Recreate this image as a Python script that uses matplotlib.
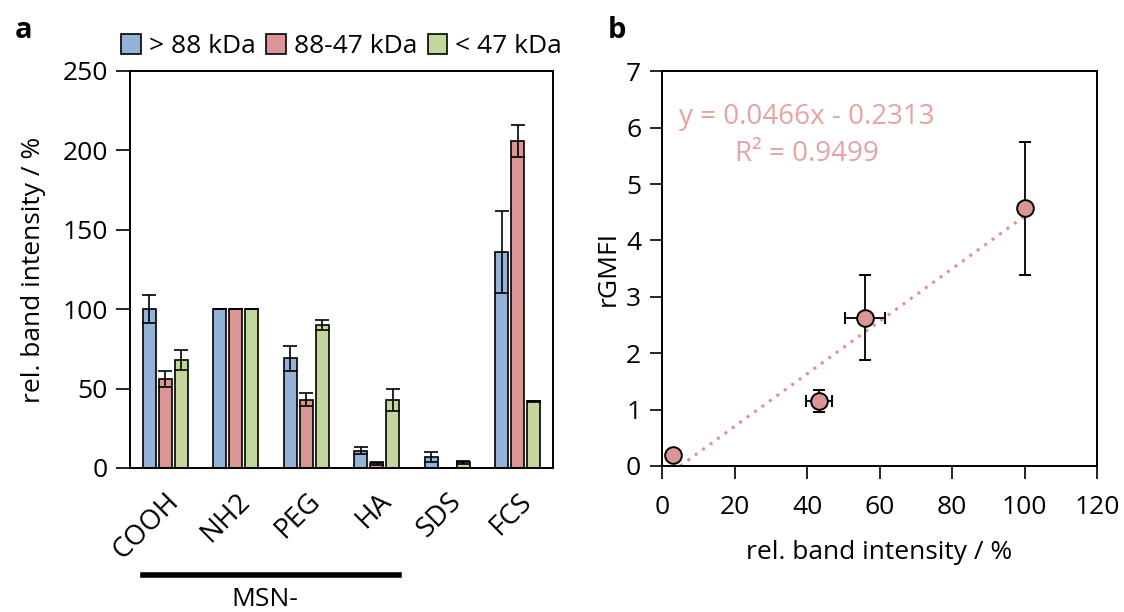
import numpy as np
import matplotlib.pyplot as plt
from matplotlib.lines import Line2D

plt.rcParams['font.family'] = ['Open Sans', 'DejaVu Sans']

# panel a data
samples = ['COOH', 'NH2', 'PEG', 'HA', 'SDS', 'FCS']
series = ['> 88 kDa', '88-47 kDa', '< 47 kDa']
high = [100, 100, 69, 11, 7, 136]
high_err = [9, 0, 8, 2, 3, 26]
mid = [56, 100, 43, 3, 0.3, 206]
mid_err = [5, 0, 4, 0.8, 0, 10]
low = [68, 100, 90, 43, 3.5, 42]
low_err = [6, 0, 3, 7, 0.8, 0.5]
colors = ['#95B3D7', '#D99694', '#C3D69B']

# panel b data
band = [3, 43.3, 56, 100]
band_err = [0, 3.5, 5.5, 0]
rgmfi = [0.19, 1.15, 2.63, 4.57]
rgmfi_err = [0, 0.2, 0.75, 1.18]
slope, icpt = 0.0466, -0.2313

FS = 19

fig = plt.figure(figsize=(11.24, 6.12), dpi=100)

# ---- panel a ----
ax = fig.add_axes([0.1157, 0.2353, 0.3763, 0.6487])
x = np.arange(len(samples))
w = 0.185
off = 0.227
for i, (vals, errs) in enumerate([(high, high_err), (mid, mid_err), (low, low_err)]):
    ax.bar(x + (i - 1) * off, vals, w, color=colors[i], edgecolor='black',
           linewidth=1.2, label=series[i], zorder=2)
    ax.errorbar(x + (i - 1) * off, vals, yerr=errs, fmt='none', ecolor='black',
                elinewidth=1.2, capsize=5, capthick=1.2, zorder=3)
ax.set_xlim(-0.5, 5.5)
ax.set_ylim(0, 250)
ax.set_yticks(range(0, 251, 50))
ax.set_xticks(x)
ax.set_xticklabels(samples, rotation=45, ha='right', rotation_mode='anchor')
ax.tick_params(axis='x', length=0, labelsize=FS + 1, pad=14)
ax.tick_params(axis='y', direction='out', length=10, width=1.2, labelsize=FS, pad=6)
for s in ax.spines.values():
    s.set_linewidth(1.4)
ax.set_ylabel('rel. band intensity / %', fontsize=FS, labelpad=12)
ax.legend(loc='lower center', bbox_to_anchor=(0.5, 1.0), ncol=3, frameon=False,
          fontsize=FS, handlelength=0.75, handleheight=0.75, handletextpad=0.3,
          columnspacing=0.4, borderaxespad=0.05)

# MSN- bracket
fig.add_artist(Line2D([143 / 1124, 399 / 1124], [1 - 575 / 612] * 2,
                      color='black', linewidth=4))
fig.text(265 / 1124, 1 - 599 / 612, 'MSN-', fontsize=FS, ha='center', va='center')

# ---- panel b ----
bx = fig.add_axes([0.589, 0.2386, 0.387, 0.645])
xs = np.array([-icpt / slope, 100])
bx.plot(xs, slope * xs + icpt, linestyle=(0, (1, 2)), color='#E8908E', linewidth=2.2, zorder=1)
bx.errorbar(band, rgmfi, xerr=band_err, yerr=rgmfi_err, fmt='o', markersize=12,
            markerfacecolor='#D99694', markeredgecolor='black', markeredgewidth=1.4,
            ecolor='black', elinewidth=1.3, capsize=4, capthick=1.3, zorder=3)
bx.set_xlim(0, 120)
bx.set_ylim(0, 7)
bx.set_xticks(range(0, 121, 20))
bx.set_yticks(range(0, 8))
bx.tick_params(axis='x', direction='out', length=9, width=1.2, labelsize=FS, pad=12)
bx.tick_params(axis='y', direction='out', length=9, width=1.2, labelsize=FS, pad=6)
for s in bx.spines.values():
    s.set_linewidth(1.4)
bx.set_xlabel('rel. band intensity / %', fontsize=FS, labelpad=14)
bx.set_ylabel('rGMFI', fontsize=FS, labelpad=4)
bx.text(0.04, 0.885, 'y = 0.0466x - 0.2313', transform=bx.transAxes, fontsize=20,
        color='#E6A3A1', ha='left', va='center')
bx.text(0.168, 0.79, 'R² = 0.9499', transform=bx.transAxes, fontsize=20,
        color='#E6A3A1', ha='left', va='center')

fig.text(15 / 1124, 1 - 30 / 612, 'a', fontsize=21, fontweight='bold', va='center')
fig.text(608 / 1124, 1 - 30 / 612, 'b', fontsize=21, fontweight='bold', va='center')

fig.savefig('out.png', dpi=100)
